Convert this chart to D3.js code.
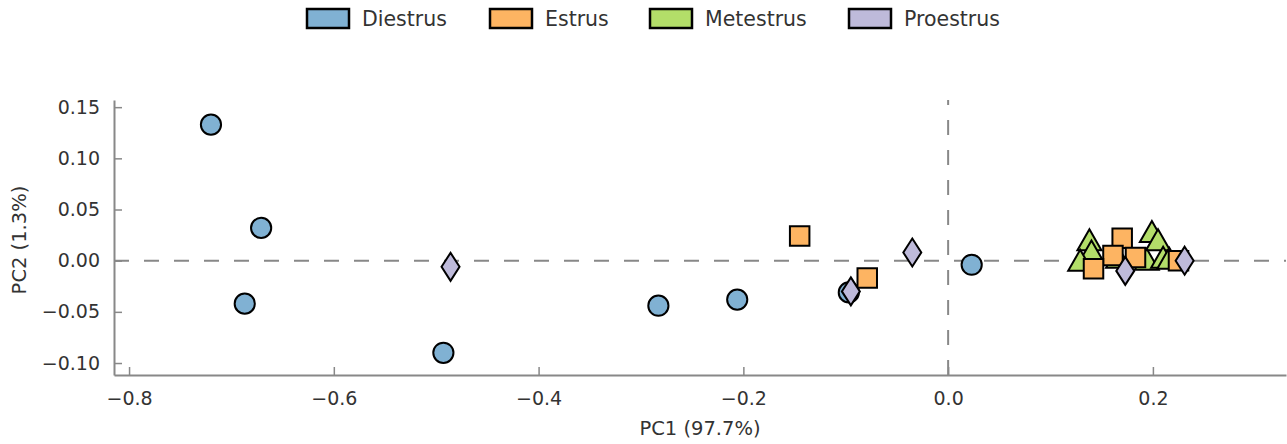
<!DOCTYPE html>
<html lang="en">
<head>
    <meta charset="UTF-8">
    <title>PCA</title>
    <style>
        body { margin: 0; background: #fff; }
        svg { display: block; font-family: "DejaVu Sans", sans-serif; }
    </style>
</head>
<body>
    <svg width="1287" height="444"></svg>
    <script src="https://d3js.org/d3.v7.min.js"></script>
    <script>
        // groups and colours
        const groups = ["Diestrus", "Estrus", "Metestrus", "Proestrus"];
        const colors = ["#80b1d3", "#fdb462", "#b3de69", "#bebada"];

        // points, [PC1, PC2]
        const diestrus = [[-0.720, 0.133], [-0.671, 0.032], [-0.687, -0.042], [-0.493, -0.090],
                          [-0.283, -0.044], [-0.206, -0.038], [-0.097, -0.031], [0.023, -0.004]];
        const metestrus = [[0.138, 0.018], [0.140, 0.007], [0.129, -0.002], [0.166, 0.001],
                           [0.199, 0.026], [0.205, 0.018], [0.194, -0.001], [0.210, 0.001], [0.216, 0.000]];
        const estrus = [[-0.145, 0.024], [-0.079, -0.017], [0.170, 0.022], [0.161, 0.005],
                        [0.142, -0.008], [0.183, 0.003], [0.225, 0.000]];
        const proestrus = [[-0.486, -0.006], [-0.095, -0.030], [-0.035, 0.008],
                           [0.173, -0.010], [0.231, 0.000]];

        const xTicks = [-0.8, -0.6, -0.4, -0.2, 0.0, 0.2];
        const yTicks = [-0.10, -0.05, 0.00, 0.05, 0.10, 0.15];

        const svg = d3.select("svg");
        const x = d3.scaleLinear().domain([-0.8147, 0.33]).range([114, 1286]);
        const y = d3.scaleLinear().domain([-0.1117, 0.157]).range([375, 100]);

        // dashed zero lines
        svg.append("line")
            .attr("x1", x(-0.8147)).attr("x2", x(0.33))
            .attr("y1", y(0)).attr("y2", y(0))
            .style("stroke", "#888").style("stroke-width", 2)
            .style("stroke-dasharray", "15,15");
        svg.append("line")
            .attr("x1", x(0)).attr("x2", x(0))
            .attr("y1", y(-0.1117)).attr("y2", y(0.157))
            .style("stroke", "#888").style("stroke-width", 2)
            .style("stroke-dasharray", "15,15");

        // axes, ticks pointing inwards
        const xAxis = d3.axisBottom(x).tickValues(xTicks).tickSizeInner(-8).tickSizeOuter(0)
            .tickPadding(17).tickFormat(d => d3.format(".1f")(d));
        const yAxis = d3.axisLeft(y).tickValues(yTicks).tickSizeInner(-8).tickSizeOuter(0)
            .tickPadding(14).tickFormat(d => d3.format(".2f")(d));

        const gx = svg.append("g").attr("transform", "translate(0,375)").call(xAxis);
        const gy = svg.append("g").attr("transform", "translate(114,0)").call(yAxis);
        [gx, gy].forEach(g => {
            g.select(".domain").style("stroke", "#888").style("stroke-width", 2);
            g.selectAll(".tick line").style("stroke", "#888").style("stroke-width", 1.5);
            g.selectAll("text").style("font-size", "19px").style("fill", "#333")
                .style("font-family", "'DejaVu Sans', sans-serif");
        });

        svg.append("text")
            .attr("x", 700).attr("y", 435)
            .attr("text-anchor", "middle")
            .style("font-size", "19.5px").style("fill", "#333")
            .text("PC1 (97.7%)");
        svg.append("text")
            .attr("transform", "translate(26,240) rotate(-90)")
            .attr("text-anchor", "middle")
            .style("font-size", "19.5px").style("fill", "#333")
            .text("PC2 (1.3%)");

        // markers
        const circle = d3.symbol().type(d3.symbolCircle).size(320)();
        const square = d3.symbol().type(d3.symbolSquare).size(380)();
        const triangle = "M0,-13L12,8L-12,8Z";
        const diamond = "M0,-14L9,0L0,14L-9,0Z";

        function drawGroup(data, path, color) {
            svg.append("g").selectAll("path")
                .data(data)
                .enter()
                .append("path")
                .attr("transform", d => `translate(${x(d[0])},${y(d[1])})`)
                .attr("d", path)
                .style("fill", color)
                .style("stroke", "#000")
                .style("stroke-width", 2)
                .style("stroke-linejoin", "miter");
        }

        drawGroup(diestrus, circle, colors[0]);
        drawGroup(metestrus, triangle, colors[2]);
        drawGroup(estrus, square, colors[1]);
        drawGroup(proestrus, diamond, colors[3]);

        // legend
        const legendX = [307, 490, 650, 849];
        const legend = svg.append("g").selectAll("g")
            .data(groups)
            .enter()
            .append("g")
            .attr("transform", (d, i) => `translate(${legendX[i]},9)`);
        legend.append("rect")
            .attr("width", 42).attr("height", 19)
            .style("fill", (d, i) => colors[i])
            .style("stroke", "#000").style("stroke-width", 2.5);
        legend.append("text")
            .attr("x", 55).attr("y", 10).attr("dy", "0.35em")
            .style("font-size", "20.5px").style("fill", "#333")
            .text(d => d);
    </script>
</body>
</html>
